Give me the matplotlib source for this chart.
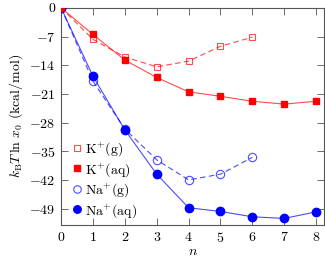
import matplotlib
matplotlib.use("Agg")
import matplotlib.pyplot as plt

plt.rcParams["font.family"] = "serif"
plt.rcParams["font.serif"] = ["cmr10"]
plt.rcParams["mathtext.fontset"] = "cm"
plt.rcParams["axes.formatter.use_mathtext"] = True
plt.rcParams["font.size"] = 10

n_vals = [0, 1, 2, 3, 4, 5, 6, 7, 8]
n_gas = [0, 1, 2, 3, 4, 5, 6]

k_gas = [0, -7.7, -12.0, -14.4, -13.0, -9.4, -7.15]
k_aq = [0, -6.5, -12.75, -17.0, -20.5, -21.6, -22.8, -23.5, -22.8]
na_gas = [0, -17.9, -29.6, -37.1, -42.0, -40.6, -36.5]
na_aq = [0, -16.7, -29.8, -40.6, -48.8, -49.7, -51.0, -51.4, -49.8]

yticks = [0, -7, -14, -21, -28, -35, -42, -49]

fig = plt.figure(figsize=(3.25, 2.61), dpi=100)
ax = fig.add_axes([0.188, 0.138, 0.809, 0.832])

red = "#ff0000"
blue = "#0000ff"

# blue first so the red square sits on top at n=0
ax.plot(n_gas, na_gas, c=blue, ls=(0, (5, 3)), lw=0.8, alpha=0.7, zorder=2)
ax.plot(n_vals, na_aq, c=blue, ls="-", lw=0.8, alpha=0.7, zorder=2)
h3, = ax.plot(n_gas, na_gas, ls="none", marker="o", ms=6, mfc="none", mec=blue, mew=0.8, alpha=0.7, zorder=3)
h4, = ax.plot(n_vals, na_aq, ls="none", marker="o", ms=6, c=blue, zorder=3)
ax.plot(n_gas, k_gas, c=red, ls=(0, (5, 3)), lw=0.8, alpha=0.7, zorder=4)
ax.plot(n_vals, k_aq, c=red, ls="-", lw=0.8, alpha=0.7, zorder=4)
h1, = ax.plot(n_gas, k_gas, ls="none", marker="s", ms=4.5, mfc="none", mec=red, mew=0.8, alpha=0.7, zorder=5)
h2, = ax.plot(n_vals, k_aq, ls="none", marker="s", ms=4.5, c=red, zorder=5)

ax.set_xlim(0, 8.25)
ax.set_ylim(-53, 0)
ax.set_xticks(n_vals)
ax.set_yticks(yticks)
ax.set_yticklabels([str(v) if v == 0 else "$-%d$" % abs(v) for v in yticks])
ax.tick_params(direction="in", top=True, right=True, length=5, width=0.6, colors="#555555",
               labelcolor="black", labelsize=10, pad=4)
for s in ax.spines.values():
    s.set_color("#555555")
    s.set_linewidth(0.8)

ax.set_xlabel("$n$", labelpad=1)
ax.set_ylabel(r"$k_\mathrm{B}T\,\ln\,x_0$ (kcal/mol)", labelpad=3)

ax.legend([h1, h2, h3, h4], ["K$^{+}$(g)", "K$^{+}$(aq)", "Na$^{+}$(g)", "Na$^{+}$(aq)"],
          loc="upper left", frameon=False, fontsize=10, handletextpad=0.1, borderpad=0,
          borderaxespad=0, labelspacing=0.2, handlelength=1.0, markerscale=0.9,
          bbox_to_anchor=(0.034, 0.39))

fig.savefig("out.png", dpi=100)
